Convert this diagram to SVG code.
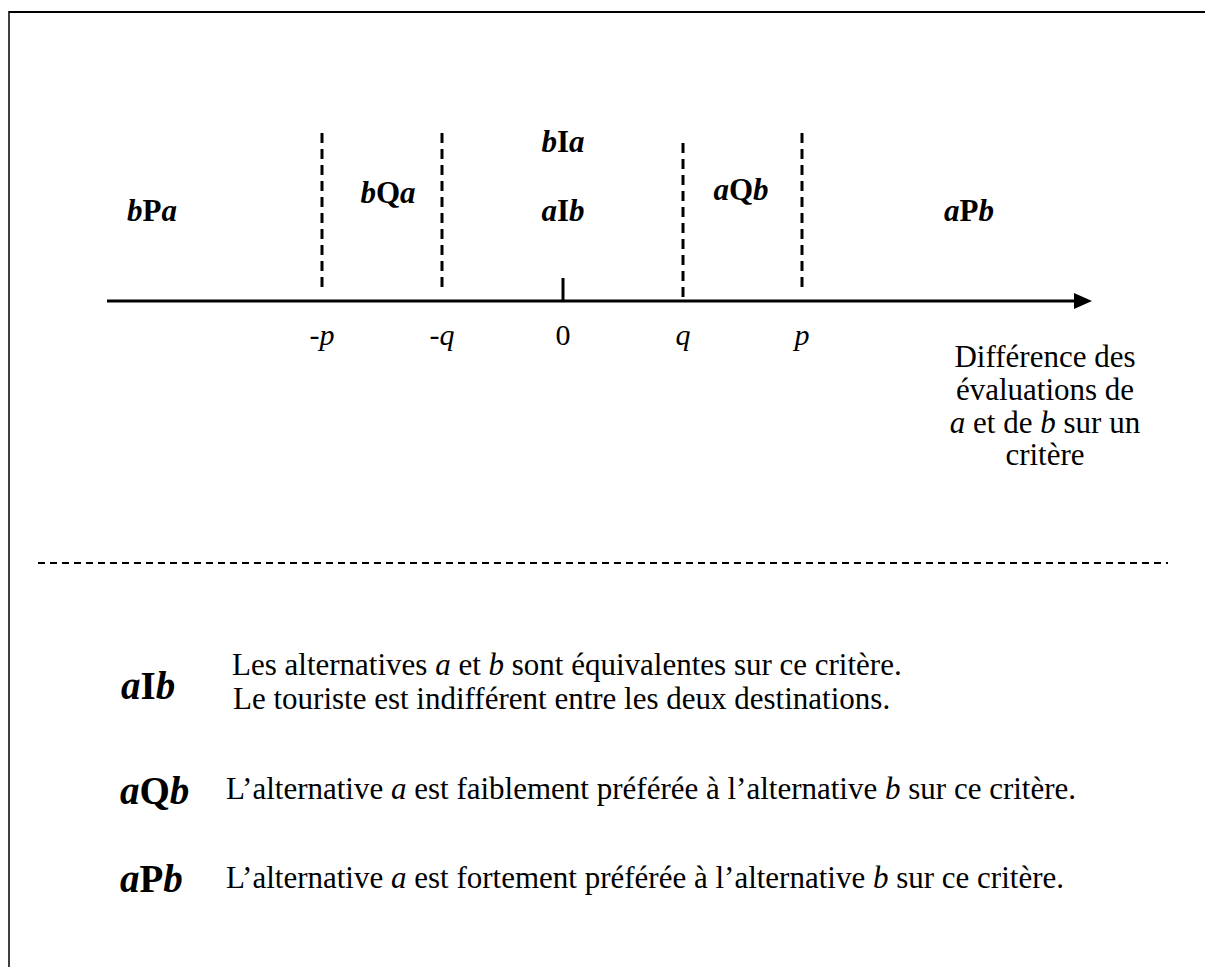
<svg xmlns="http://www.w3.org/2000/svg" width="1205" height="967" viewBox="0 0 1205 967">
<defs>
<style>
text{font-family:"Liberation Serif","Times New Roman",serif;fill:#000}
.lbl{font-size:31px;font-weight:bold}
.big{font-size:39px;font-weight:bold}
.ax{font-size:30px}
.body{font-size:31px}
.i{font-style:italic}
.dash{stroke:#000;stroke-width:3;stroke-dasharray:10 6;fill:none}
</style>
</defs>
<rect width="1205" height="967" fill="#fff"/>
<g id="frame">
<line x1="9" y1="12" x2="1205" y2="12" stroke="#000" stroke-width="2"/>
<line x1="9" y1="11" x2="9" y2="967" stroke="#000" stroke-width="1.5"/>
</g>
<g id="connectors">
<line x1="107" y1="301" x2="1076" y2="301" stroke="#000" stroke-width="3"/>
<path d="M1074,293 L1092,301 L1074,309 z" fill="#000"/>
<line x1="563" y1="278" x2="563" y2="301" stroke="#000" stroke-width="3"/>
<line class="dash" x1="322" y1="133" x2="322" y2="290"/>
<line class="dash" x1="442" y1="133" x2="442" y2="290"/>
<line class="dash" x1="683" y1="143" x2="683" y2="298"/>
<line class="dash" x1="802" y1="133" x2="802" y2="290"/>
<line x1="38" y1="563" x2="1168" y2="563" stroke="#000" stroke-width="2" stroke-dasharray="7 5"/>
</g>
<g id="zones">
<text class="lbl" x="152" y="221" text-anchor="middle"><tspan class="i">b</tspan>P<tspan class="i">a</tspan></text>
<text class="lbl" x="388" y="203" text-anchor="middle"><tspan class="i">b</tspan>Q<tspan class="i">a</tspan></text>
<text class="lbl" x="563" y="152" text-anchor="middle"><tspan class="i">b</tspan>I<tspan class="i">a</tspan></text>
<text class="lbl" x="563" y="221" text-anchor="middle"><tspan class="i">a</tspan>I<tspan class="i">b</tspan></text>
<text class="lbl" x="741" y="200" text-anchor="middle"><tspan class="i">a</tspan>Q<tspan class="i">b</tspan></text>
<text class="lbl" x="969" y="221" text-anchor="middle"><tspan class="i">a</tspan>P<tspan class="i">b</tspan></text>
</g>
<g id="axis-labels">
<text class="ax i" x="322" y="345" text-anchor="middle">-p</text>
<text class="ax i" x="442" y="345" text-anchor="middle">-q</text>
<text class="ax" x="563" y="345" text-anchor="middle">0</text>
<text class="ax i" x="683" y="345" text-anchor="middle">q</text>
<text class="ax i" x="802" y="345" text-anchor="middle">p</text>
</g>
<g id="axis-title">
<text class="body" text-anchor="middle"><tspan x="1045" y="367">Différence des</tspan><tspan x="1045" y="400">évaluations de</tspan><tspan x="1045" y="433"><tspan class="i">a</tspan> et de <tspan class="i">b</tspan> sur un</tspan><tspan x="1045" y="465">critère</tspan></text>
</g>
<g id="legend-aIb">
<text class="big" x="121" y="699"><tspan class="i">a</tspan>I<tspan class="i">b</tspan></text>
<text class="body" x="232" y="675" font-size="28.5">Les alternatives <tspan class="i">a</tspan> et <tspan class="i">b</tspan> sont équivalentes sur ce critère.</text>
<text class="body" x="233" y="709" font-size="29.3">Le touriste est indifférent entre les deux destinations.</text>
</g>
<g id="legend-aQb">
<text class="big" x="120" y="804"><tspan class="i">a</tspan>Q<tspan class="i">b</tspan></text>
<text class="body" x="226" y="799">L’alternative <tspan class="i">a</tspan> est faiblement préférée à l’alternative <tspan class="i">b</tspan> sur ce critère.</text>
</g>
<g id="legend-aPb">
<text class="big" x="120" y="892"><tspan class="i">a</tspan>P<tspan class="i">b</tspan></text>
<text class="body" x="226" y="888">L’alternative <tspan class="i">a</tspan> est fortement préférée à l’alternative <tspan class="i">b</tspan> sur ce critère.</text>
</g>
</svg>
